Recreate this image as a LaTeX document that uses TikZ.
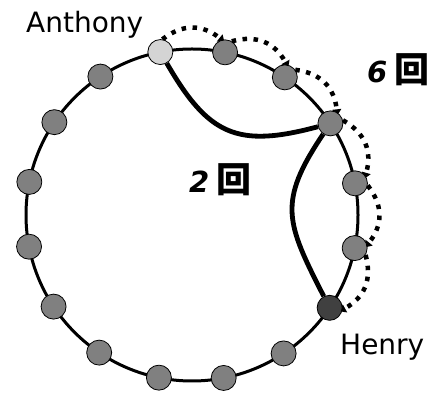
\documentclass[tikz,border=0pt]{standalone}
\usepackage{fontspec}
\setmainfont{DejaVu Sans}
\newfontfamily\cjkfont{Noto Sans CJK JP}
\usetikzlibrary{arrows.meta,backgrounds}
\definecolor{nodegray}{RGB}{128,128,128}
\definecolor{startgray}{RGB}{212,212,212}
\definecolor{endgray}{RGB}{64,64,64}
\begin{document}
\begin{tikzpicture}[x=1pt,y=1pt,
  person/.style={circle, draw=black, line width=0.8pt, minimum size=25pt, inner sep=0pt},
  ring/.style={line width=3pt},
  hop/.style={line width=4.8pt},
  dothop/.style={line width=4.5pt, dash pattern=on 4.5pt off 6.5pt, bend left=38, looseness=1.1,
    shorten >=-3pt, -{Triangle[length=6pt,width=9pt]}},
  lbl/.style={font=\fontsize{28}{32}\selectfont, inner sep=0pt},
  kai/.style={font=\fontsize{29}{32}\selectfont\bfseries\itshape, inner sep=0pt}]
\useasboundingbox (0,0) rectangle (435,395);
\draw[ring] (192,180) circle[radius=166];
\foreach \k/\c in {0/startgray,1/nodegray,2/nodegray,3/nodegray,4/nodegray,5/nodegray,6/endgray,7/nodegray,
  8/nodegray,9/nodegray,10/nodegray,11/nodegray,12/nodegray,13/nodegray,14/nodegray,15/nodegray}
  \node[person, fill=\c] (n\k) at ({192+166*cos(101-22.5*\k)}, {180+166*sin(101-22.5*\k)}) {};
\draw[hop] (n0) to[out=-60, in=195, looseness=1.3] (n3);
\draw[hop] (n3) to[out=-124, in=117, looseness=1.3] (n6);
\begin{scope}[on background layer]
\foreach \a in {0,...,5} {
  \pgfmathtruncatemacro\b{\a+1}
  \pgfmathtruncatemacro\pa{round(101-22.5*\a-20)}
  \pgfmathtruncatemacro\pb{round(101-22.5*\b+25)}
  \draw[dothop] (n\a.\pa) to (n\b.\pb);
}
\end{scope}
\node[lbl, anchor=base west] (anth) at (26,362) {Anthony};
\node[lbl, anchor=base west] (henry) at (340,40) {Henry};
\node[kai, anchor=base west] (six) at (367,312) {6\hspace{7pt}{\cjkfont\fontsize{35}{38}\selectfont\bfseries 回}};
\node[kai, anchor=base west] (two) at (189,202) {2\hspace{7pt}{\cjkfont\fontsize{35}{38}\selectfont\bfseries 回}};
\end{tikzpicture}
\end{document}
